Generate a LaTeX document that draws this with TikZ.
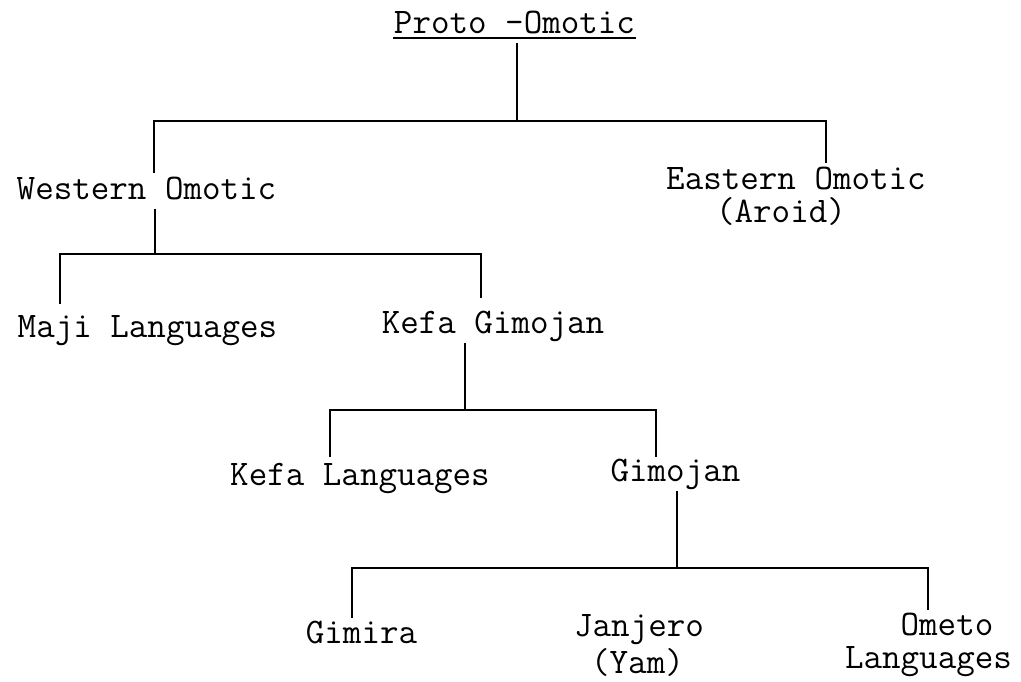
\documentclass[tikz,border=0pt]{standalone}
\begin{document}
\begin{tikzpicture}[x=1pt, y=-1pt, line width=1.7pt,
        lang/.style={font=\ttfamily\fontsize{36}{42}\selectfont, inner xsep=0pt, inner ysep=1pt, text depth=0pt, anchor=base},
        parent/.style={lang, inner ysep=9pt}]
            \useasboundingbox (0, 0) rectangle (1021, 681);

            \node[parent] (proto) at (514.5, 33) {Proto -Omotic};
            \node[parent] (western) at (146.5, 199) {Western Omotic};
            \node[lang] (eastern) at (796, 189) {Eastern Omotic};
            \node[lang] (aroid) at (781, 222) {(Aroid)};
            \node[lang] (maji) at (147.5, 337) {Maji Languages};
            \node[parent] (kefagim) at (493, 333) {Kefa Gimojan};
            \node[lang] (kefalang) at (360, 485) {Kefa Languages};
            \node[parent] (gimojan) at (675.5, 481) {Gimojan};
            \node[lang] (gimira) at (361.5, 643) {Gimira};
            \node[lang] (janjero) at (639, 636) {Janjero};
            \node[lang] (yam) at (637.5, 673) {(Yam)};
            \node[lang] (ometo) at (947, 635) {Ometo};
            \node[lang] (ometolang) at (928.5, 668) {Languages};

            \draw[line width=1.1pt] ([yshift=-5pt]proto.base west) -- ([yshift=-5pt]proto.base east);

            \coordinate (j1) at (517, 121);
            \coordinate (wtop) at (154, 173);
            \coordinate (etop) at (826, 163);
            \draw (proto.south -| j1) -- (j1);
            \draw (wtop) |- (j1) -| (etop);

            \coordinate (j2) at (155, 254);
            \coordinate (mtop) at (60, 304);
            \coordinate (ktop) at (481, 298);
            \draw (western.south -| j2) -- (j2);
            \draw (mtop) |- (j2) -| (ktop);

            \coordinate (j3) at (465, 410);
            \coordinate (kltop) at (330, 457);
            \coordinate (gjtop) at (656, 457);
            \draw (kefagim.south -| j3) -- (j3);
            \draw (kltop) |- (j3) -| (gjtop);

            \coordinate (j4) at (677, 568);
            \coordinate (gmtop) at (352, 618);
            \coordinate (omtop) at (928, 610);
            \draw (gimojan.south -| j4) -- (j4);
            \draw (gmtop) |- (j4) -| (omtop);
        \end{tikzpicture}
\end{document}
